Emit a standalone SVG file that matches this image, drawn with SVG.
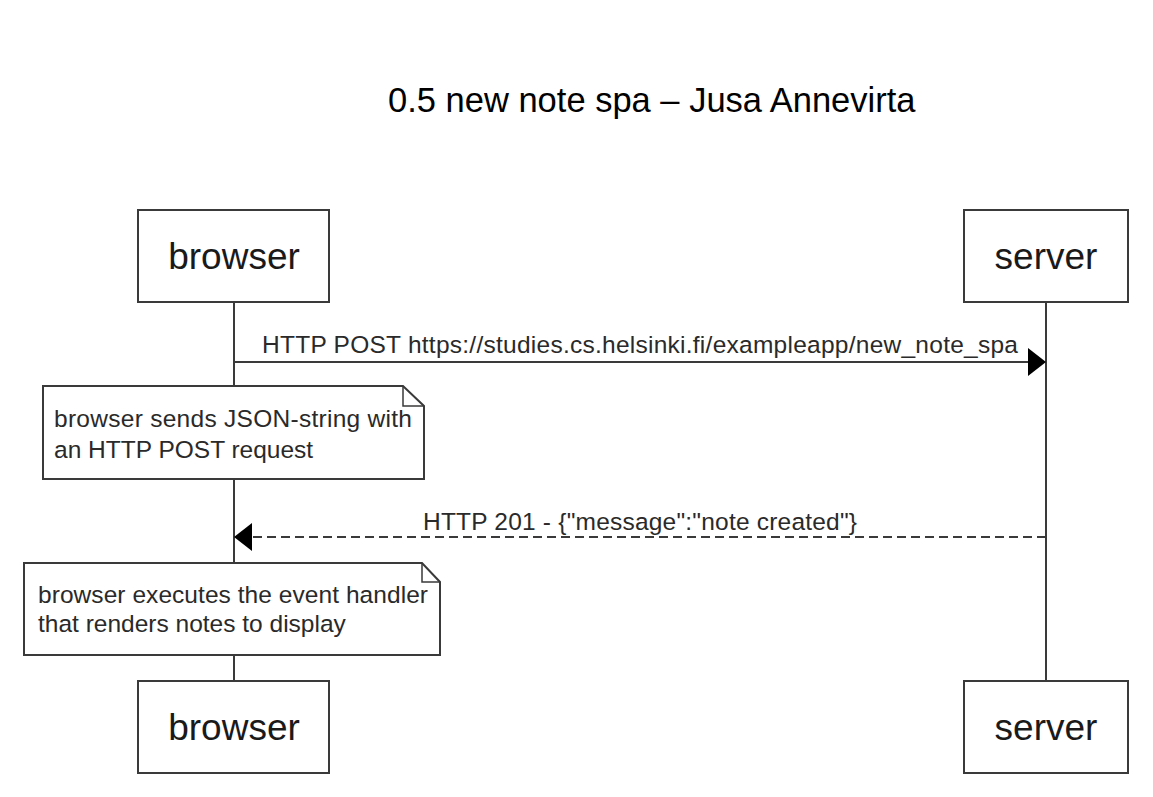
<svg xmlns="http://www.w3.org/2000/svg" width="1153" height="797" viewBox="0 0 1153 797">
  <style>
    .box { fill: #ffffff; stroke: #3a3a3a; stroke-width: 2; }
    .life { stroke: #3a3a3a; stroke-width: 2; fill: none; }
    .note { fill: #ffffff; stroke: #3a3a3a; stroke-width: 2; }
    .fold { fill: none; stroke: #3a3a3a; stroke-width: 1.5; }
    .actor { font-family: "Liberation Sans", Arial, sans-serif; font-size: 37px; fill: #1a1a1a; text-anchor: middle; }
    .small { font-family: "Liberation Sans", Arial, sans-serif; font-size: 24.5px; fill: #2a2a2a; }
    .title { font-family: "Liberation Sans", Arial, sans-serif; font-size: 34.5px; fill: #000000; }
    .msg { stroke: #3a3a3a; stroke-width: 2; fill: none; }
    .dashed { stroke-dasharray: 9 5; }
    .head { fill: #000000; stroke: none; }
  </style>
  <rect width="1153" height="797" fill="#ffffff"/>
  <text class="title" x="388" y="112">0.5 new note spa – Jusa Annevirta</text>

  <g id="lifelines">
    <line class="life" x1="234" y1="303" x2="234" y2="681"/>
    <line class="life" x1="1046" y1="303" x2="1046" y2="681"/>
  </g>

  <g id="browser-top">
    <rect class="box" x="138" y="210" width="191" height="92"/>
    <text class="actor" x="234" y="269">browser</text>
  </g>
  <g id="server-top">
    <rect class="box" x="964" y="210" width="164" height="92"/>
    <text class="actor" x="1046" y="269">server</text>
  </g>
  <g id="browser-bottom">
    <rect class="box" x="138" y="681" width="191" height="92"/>
    <text class="actor" x="234" y="740">browser</text>
  </g>
  <g id="server-bottom">
    <rect class="box" x="964" y="681" width="164" height="92"/>
    <text class="actor" x="1046" y="740">server</text>
  </g>

  <g id="connectors">
    <line class="msg" x1="234" y1="362" x2="1030" y2="362"/>
    <polygon class="head" points="1046,362 1028,348 1028,376"/>
    <text class="small" x="640" y="353" text-anchor="middle" textLength="756" lengthAdjust="spacing">HTTP POST https://studies.cs.helsinki.fi/exampleapp/new_note_spa</text>

    <line class="msg dashed" x1="1046" y1="537" x2="250" y2="537"/>
    <polygon class="head" points="234,537 252,523 252,551"/>
    <text class="small" x="640" y="530" text-anchor="middle" textLength="434" lengthAdjust="spacing">HTTP 201 - {"message":"note created"}</text>
  </g>

  <g id="note-1">
    <path class="note" d="M43,386 L403,386 L424,406 L424,479 L43,479 Z"/>
    <path class="fold" d="M403,386 L403,406 L424,406"/>
    <text class="small" x="54" y="427" textLength="358" lengthAdjust="spacing">browser sends JSON-string with</text>
    <text class="small" x="54" y="458">an HTTP POST request</text>
  </g>

  <g id="note-2">
    <path class="note" d="M24,563 L422,563 L440,582 L440,655 L24,655 Z"/>
    <path class="fold" d="M422,563 L422,582 L440,582"/>
    <text class="small" x="38" y="603" textLength="390" lengthAdjust="spacing">browser executes the event handler</text>
    <text class="small" x="38" y="632">that renders notes to display</text>
  </g>
</svg>
